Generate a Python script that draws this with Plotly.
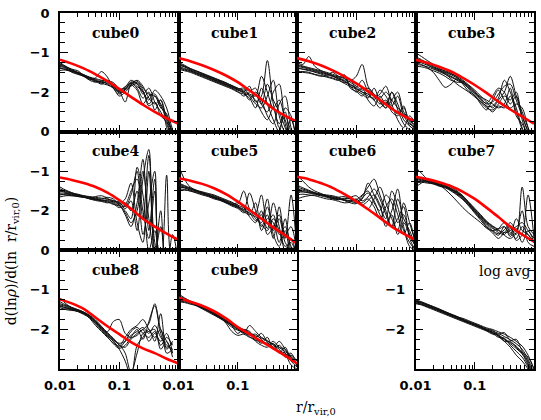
import plotly.graph_objects as go

# radii (r / r_vir,0) at which profiles are sampled
R = [0.01, 0.0126, 0.0158, 0.02, 0.0251, 0.0316, 0.0398, 0.0501, 0.0631, 0.0794,
     0.1, 0.126, 0.158, 0.2, 0.251, 0.316, 0.398, 0.501, 0.631, 0.794, 1.0]
R_RED = [0.01, 0.0158, 0.0251, 0.0398, 0.0631, 0.1, 0.158, 0.251, 0.398, 0.631, 1.0]

X_TICKS = [0.01, 0.1, 1.0]
X_TICKTEXT = ["0.01", "0.1", ""]
X_MINOR = [0.02, 0.03, 0.04, 0.05, 0.06, 0.07, 0.08, 0.09, 0.2, 0.3, 0.4, 0.5, 0.6, 0.7, 0.8, 0.9]
Y_TICKS = [0, -1, -2, -3]
Y_MINOR = [-0.25, -0.5, -0.75, -1.25, -1.5, -1.75, -2.25, -2.5, -2.75]

cube0 = [
    [-1.30,-1.38,-1.44,-1.50,-1.56,-1.62,-1.66,-1.70,-1.74,-1.86,-2.00,-1.92,-1.76,-1.72,-1.90,-2.05,-2.10,-2.30,-2.60,-3.00,-3.30],
    [-1.40,-1.42,-1.48,-1.54,-1.60,-1.66,-1.74,-1.72,-1.70,-1.82,-1.98,-1.88,-1.70,-1.80,-2.00,-2.20,-1.95,-2.10,-2.40,-2.95,-3.30],
    [-1.25,-1.35,-1.42,-1.46,-1.58,-1.68,-1.64,-1.48,-1.62,-1.90,-2.05,-1.95,-1.82,-1.70,-1.85,-2.15,-2.30,-2.20,-2.70,-3.20,-3.30],
    [-1.45,-1.44,-1.46,-1.52,-1.58,-1.64,-1.70,-1.78,-1.82,-1.90,-2.10,-2.00,-1.85,-1.78,-2.05,-1.90,-2.25,-2.50,-2.80,-3.20,-3.30],
    [-1.35,-1.40,-1.50,-1.55,-1.60,-1.66,-1.72,-1.80,-1.72,-1.76,-1.95,-2.25,-1.80,-1.76,-1.96,-2.30,-2.10,-2.40,-2.55,-3.10,-3.30],
    [-1.32,-1.38,-1.46,-1.52,-1.60,-1.70,-1.75,-1.72,-1.80,-1.88,-1.96,-1.86,-1.78,-1.90,-2.15,-2.00,-2.45,-2.20,-2.90,-3.30,-3.30],
    [-1.38,-1.44,-1.48,-1.50,-1.56,-1.64,-1.68,-1.74,-1.78,-1.84,-2.02,-1.94,-1.74,-1.86,-1.98,-2.35,-2.25,-2.60,-2.75,-3.00,-3.30],
    [-1.28,-1.36,-1.43,-1.51,-1.57,-1.63,-1.71,-1.76,-1.74,-1.80,-1.92,-1.90,-1.82,-1.95,-2.30,-2.10,-2.05,-2.35,-2.65,-3.05,-3.30],
]
cube0_red = [-1.18,-1.28,-1.40,-1.55,-1.72,-1.92,-2.12,-2.32,-2.50,-2.66,-2.80]

cube1 = [
    [-1.30,-1.36,-1.42,-1.48,-1.54,-1.60,-1.66,-1.72,-1.78,-1.84,-1.90,-1.98,-2.05,-2.10,-1.60,-2.00,-2.40,-2.20,-2.70,-3.10,-3.30],
    [-1.40,-1.42,-1.46,-1.52,-1.58,-1.64,-1.70,-1.76,-1.82,-1.88,-1.95,-2.00,-1.85,-2.25,-2.10,-1.20,-2.30,-2.80,-2.50,-3.20,-3.30],
    [-1.25,-1.32,-1.40,-1.46,-1.52,-1.58,-1.64,-1.70,-1.76,-1.84,-1.92,-1.90,-2.10,-2.30,-2.40,-2.10,-1.70,-2.60,-3.00,-2.70,-3.30],
    [-1.38,-1.44,-1.48,-1.54,-1.60,-1.66,-1.72,-1.78,-1.84,-1.90,-1.98,-2.10,-2.00,-1.90,-2.30,-2.50,-2.00,-1.80,-2.80,-3.20,-3.30],
    [-1.32,-1.36,-1.44,-1.50,-1.56,-1.62,-1.68,-1.74,-1.80,-1.86,-1.94,-2.00,-2.20,-2.00,-2.20,-2.60,-2.80,-2.30,-2.10,-2.90,-3.30],
    [-1.42,-1.46,-1.50,-1.56,-1.62,-1.68,-1.74,-1.80,-1.86,-1.92,-2.00,-2.05,-2.15,-2.40,-1.90,-2.30,-2.70,-3.00,-2.40,-2.60,-3.30],
    [-1.28,-1.34,-1.41,-1.47,-1.53,-1.59,-1.65,-1.71,-1.77,-1.83,-1.90,-1.95,-1.95,-2.05,-2.30,-1.80,-2.20,-2.50,-2.90,-3.30,-3.30],
    [-1.35,-1.40,-1.46,-1.52,-1.57,-1.63,-1.69,-1.75,-1.81,-1.87,-1.93,-2.02,-2.08,-2.20,-2.50,-2.70,-2.40,-2.90,-2.60,-3.00,-3.30],
]
cube1_red = [-1.14,-1.22,-1.32,-1.44,-1.58,-1.75,-1.96,-2.18,-2.42,-2.60,-2.74]

cube2 = [
    [-1.30,-1.34,-1.38,-1.42,-1.46,-1.50,-1.55,-1.60,-1.66,-1.75,-1.85,-1.95,-1.90,-2.05,-2.15,-2.00,-2.20,-2.40,-2.55,-2.70,-2.85],
    [-1.40,-1.42,-1.46,-1.48,-1.52,-1.56,-1.60,-1.66,-1.72,-1.80,-1.88,-1.70,-2.00,-2.20,-1.95,-2.10,-2.35,-2.10,-2.60,-2.80,-2.90],
    [-1.25,-1.30,-1.10,-1.35,-1.45,-1.52,-1.58,-1.62,-1.70,-1.68,-1.95,-2.05,-2.15,-1.90,-2.25,-2.40,-2.00,-2.30,-2.70,-2.85,-3.00],
    [-1.50,-1.48,-1.50,-1.55,-1.58,-1.62,-1.66,-1.70,-1.56,-1.90,-1.98,-2.10,-1.95,-2.10,-2.30,-2.20,-2.50,-2.60,-2.40,-2.75,-2.95],
    [-1.35,-1.38,-1.42,-1.46,-1.50,-1.54,-1.60,-1.64,-1.74,-1.82,-1.90,-2.00,-2.10,-2.15,-2.05,-1.85,-2.30,-2.70,-2.90,-2.60,-2.80],
    [-1.45,-1.50,-1.52,-1.56,-1.60,-1.58,-1.50,-1.60,-1.64,-1.85,-2.00,-1.90,-2.20,-2.35,-2.10,-2.30,-2.00,-2.45,-2.80,-2.95,-3.00],
    [-1.32,-1.36,-1.40,-1.44,-1.48,-1.54,-1.58,-1.68,-1.76,-1.72,-1.60,-1.30,-1.85,-2.05,-2.20,-2.40,-2.20,-2.00,-2.50,-2.70,-2.90],
    [-1.38,-1.42,-1.44,-1.50,-1.54,-1.60,-1.64,-1.70,-1.78,-1.86,-1.92,-2.00,-2.05,-2.20,-2.40,-2.25,-2.40,-2.55,-2.35,-2.85,-2.95],
]
cube2_red = [-1.14,-1.22,-1.32,-1.45,-1.60,-1.78,-1.98,-2.20,-2.42,-2.60,-2.74]

cube3 = [
    [-1.20,-1.26,-1.32,-1.38,-1.44,-1.50,-1.56,-1.64,-1.72,-1.86,-2.00,-2.15,-2.30,-2.25,-2.05,-1.85,-1.80,-2.20,-2.60,-3.00,-3.30],
    [-1.30,-1.32,-1.36,-1.42,-1.48,-1.55,-1.62,-1.70,-1.78,-1.90,-2.05,-2.20,-2.35,-2.35,-2.15,-1.70,-2.00,-2.40,-2.90,-3.20,-3.30],
    [-1.00,-1.10,-1.20,-1.30,-1.40,-1.48,-1.54,-1.60,-1.70,-1.82,-1.95,-2.10,-2.25,-2.40,-2.20,-2.00,-1.60,-2.10,-2.50,-2.90,-3.30],
    [-1.25,-1.30,-1.38,-1.50,-1.70,-1.88,-1.80,-1.66,-1.76,-1.92,-2.10,-2.25,-2.40,-2.45,-2.30,-2.10,-2.20,-2.00,-2.70,-3.10,-3.30],
    [-1.15,-1.20,-1.28,-1.36,-1.42,-1.46,-1.52,-1.62,-1.80,-1.98,-2.08,-2.30,-2.45,-2.20,-1.95,-2.20,-2.40,-2.30,-2.40,-2.90,-3.30],
    [-1.35,-1.36,-1.40,-1.46,-1.52,-1.60,-1.70,-1.75,-1.76,-1.88,-2.02,-2.12,-2.20,-2.30,-2.40,-2.30,-1.90,-2.60,-2.80,-3.10,-3.30],
    [-1.28,-1.22,-1.30,-1.40,-1.46,-1.52,-1.60,-1.68,-1.74,-1.84,-1.98,-2.18,-2.28,-2.10,-1.90,-2.00,-2.30,-2.10,-2.60,-3.00,-3.30],
    [-1.10,-1.18,-1.26,-1.34,-1.44,-1.54,-1.66,-1.80,-1.90,-2.00,-2.12,-2.24,-2.36,-2.50,-2.35,-2.40,-2.10,-2.50,-2.95,-3.30,-3.30],
]
cube3_red = [-1.18,-1.26,-1.36,-1.48,-1.64,-1.82,-2.02,-2.24,-2.44,-2.62,-2.80]

cube4 = [
    [-1.50,-1.52,-1.56,-1.60,-1.62,-1.64,-1.66,-1.68,-1.70,-1.75,-1.80,-1.90,-1.60,-1.00,-2.20,-0.60,-2.80,-3.30,-3.30,-3.30,-3.30],
    [-1.60,-1.58,-1.60,-1.64,-1.66,-1.70,-1.72,-1.72,-1.74,-1.78,-1.85,-2.10,-2.40,-1.80,-0.70,-2.50,-1.20,-3.30,-3.30,-3.30,-3.30],
    [-1.45,-1.50,-1.55,-1.58,-1.62,-1.66,-1.68,-1.70,-1.66,-1.70,-1.82,-1.70,-1.30,-2.30,-2.80,-1.00,-3.20,-2.00,-3.30,-3.30,-3.30],
    [-1.65,-1.62,-1.62,-1.64,-1.66,-1.68,-1.70,-1.74,-1.78,-1.84,-1.88,-2.00,-2.20,-0.90,-1.60,-3.00,-2.50,-3.30,-3.30,-3.30,-3.30],
    [-1.55,-1.56,-1.58,-1.60,-1.64,-1.66,-1.70,-1.76,-1.80,-1.76,-1.78,-1.95,-1.75,-2.50,-1.20,-0.45,-3.00,-3.30,-1.10,-3.30,-3.30],
    [-1.40,-1.48,-1.54,-1.60,-1.64,-1.68,-1.64,-1.62,-1.68,-1.80,-1.86,-1.80,-2.00,-1.50,-2.60,-1.80,-1.00,-3.30,-3.30,-3.30,-3.30],
    [-1.58,-1.60,-1.62,-1.62,-1.64,-1.70,-1.74,-1.76,-1.72,-1.74,-1.84,-2.05,-2.30,-2.00,-1.00,-2.20,-3.10,-2.40,-3.30,-3.30,-3.30],
    [-1.50,-1.54,-1.58,-1.62,-1.66,-1.68,-1.72,-1.74,-1.76,-1.82,-1.92,-1.85,-1.50,-1.20,-2.00,-2.70,-1.50,-3.30,-3.30,-2.60,-3.30],
]
cube4_red = [-1.16,-1.22,-1.30,-1.40,-1.54,-1.73,-1.95,-2.20,-2.40,-2.58,-2.74]

cube5 = [
    [-1.40,-1.42,-1.46,-1.50,-1.54,-1.58,-1.62,-1.68,-1.74,-1.80,-1.86,-1.92,-2.00,-2.05,-1.60,-2.30,-2.10,-2.60,-2.40,-2.90,-3.10],
    [-0.85,-1.20,-1.40,-1.48,-1.52,-1.56,-1.60,-1.66,-1.72,-1.78,-1.84,-1.50,-1.95,-2.10,-2.20,-1.70,-2.50,-2.20,-2.80,-3.00,-3.20],
    [-1.30,-1.36,-1.42,-1.48,-1.54,-1.60,-1.66,-1.70,-1.76,-1.82,-1.90,-1.98,-1.55,-2.00,-2.40,-2.10,-2.70,-1.90,-2.60,-2.40,-3.10],
    [-1.45,-1.46,-1.50,-1.54,-1.58,-1.62,-1.66,-1.72,-1.78,-1.84,-1.88,-2.00,-2.05,-2.25,-2.10,-2.45,-1.80,-2.40,-3.00,-2.70,-3.20],
    [-1.35,-1.40,-1.44,-1.50,-1.56,-1.60,-1.64,-1.70,-1.76,-1.86,-1.92,-2.02,-2.10,-1.80,-2.50,-2.20,-2.30,-2.80,-2.20,-3.00,-3.20],
    [-1.50,-1.48,-1.50,-1.55,-1.60,-1.64,-1.70,-1.74,-1.80,-1.84,-1.80,-1.90,-2.15,-2.30,-2.00,-2.60,-2.40,-2.10,-2.70,-1.60,-3.10],
    [-1.38,-1.42,-1.48,-1.52,-1.56,-1.62,-1.68,-1.72,-1.78,-1.84,-1.90,-1.96,-2.08,-2.15,-2.30,-1.90,-2.60,-2.90,-2.50,-3.10,-3.20],
    [-1.32,-1.38,-1.44,-1.50,-1.55,-1.60,-1.66,-1.72,-1.80,-1.88,-1.94,-2.05,-2.00,-2.20,-2.35,-2.50,-2.20,-2.50,-2.90,-2.80,-3.20],
]
cube5_red = [-1.18,-1.24,-1.32,-1.43,-1.58,-1.77,-1.98,-2.20,-2.42,-2.62,-2.83]

cube6 = [
    [-1.40,-1.45,-1.50,-1.55,-1.58,-1.62,-1.66,-1.70,-1.72,-1.74,-1.72,-1.60,-1.50,-1.80,-2.00,-1.60,-1.80,-2.30,-2.10,-2.60,-2.90],
    [-1.55,-1.52,-1.54,-1.56,-1.60,-1.64,-1.68,-1.70,-1.74,-1.76,-1.80,-1.70,-1.30,-1.60,-1.90,-2.20,-1.50,-1.90,-2.50,-2.80,-3.00],
    [-1.10,-1.25,-1.40,-1.50,-1.56,-1.62,-1.68,-1.72,-1.70,-1.66,-1.62,-1.75,-1.65,-1.45,-1.70,-2.10,-2.40,-1.70,-2.20,-2.50,-2.90],
    [-1.60,-1.58,-1.60,-1.62,-1.66,-1.70,-1.72,-1.76,-1.80,-1.78,-1.70,-1.85,-1.95,-1.70,-1.40,-1.80,-2.20,-2.50,-1.80,-2.30,-2.80],
    [-1.50,-1.52,-1.55,-1.58,-1.60,-1.62,-1.64,-1.68,-1.74,-1.80,-1.82,-1.68,-1.55,-1.75,-2.10,-2.30,-2.00,-1.45,-2.40,-2.90,-3.00],
    [-1.70,-1.65,-1.62,-1.60,-1.62,-1.66,-1.70,-1.72,-1.68,-1.70,-1.76,-1.80,-1.70,-1.90,-2.20,-1.90,-1.70,-2.10,-2.60,-2.30,-2.90],
    [-1.45,-1.48,-1.52,-1.56,-1.60,-1.64,-1.68,-1.66,-1.64,-1.70,-1.78,-1.62,-1.40,-1.20,-1.60,-2.00,-2.40,-2.20,-1.90,-2.70,-3.00],
    [-1.35,-1.42,-1.48,-1.54,-1.58,-1.60,-1.62,-1.66,-1.72,-1.76,-1.74,-1.85,-1.75,-1.60,-1.85,-2.40,-2.10,-2.60,-2.30,-2.60,-2.90],
]
cube6_red = [-1.14,-1.20,-1.30,-1.42,-1.58,-1.76,-1.96,-2.18,-2.40,-2.58,-2.74]

cube7 = [
    [-1.15,-1.20,-1.25,-1.28,-1.32,-1.36,-1.44,-1.54,-1.66,-1.82,-2.00,-2.16,-2.32,-2.45,-2.50,-2.55,-2.50,-2.40,-2.30,-2.50,-2.70],
    [-0.90,-1.05,-1.20,-1.28,-1.30,-1.34,-1.40,-1.50,-1.62,-1.80,-1.98,-2.14,-2.30,-2.42,-2.55,-2.60,-2.45,-2.60,-1.40,-2.40,-2.60],
    [-1.30,-1.28,-1.30,-1.32,-1.36,-1.40,-1.48,-1.58,-1.70,-1.86,-2.04,-2.20,-2.36,-2.50,-2.58,-2.48,-2.30,-2.50,-2.60,-2.70,-2.80],
    [-1.20,-1.24,-1.26,-1.30,-1.34,-1.38,-1.46,-1.56,-1.68,-1.84,-2.02,-2.18,-2.40,-2.52,-2.62,-2.40,-2.60,-2.20,-2.50,-2.60,-2.80],
    [-1.40,-1.30,-1.22,-1.26,-1.34,-1.46,-1.60,-1.76,-1.92,-2.06,-2.18,-2.30,-2.44,-2.50,-2.45,-2.30,-2.55,-2.70,-2.40,-2.60,-2.80],
    [-1.10,-1.18,-1.24,-1.30,-1.36,-1.40,-1.46,-1.54,-1.64,-1.80,-1.96,-2.12,-2.28,-2.40,-2.48,-2.62,-2.70,-2.55,-2.00,-2.80,-2.90],
    [-1.25,-1.26,-1.28,-1.32,-1.38,-1.42,-1.50,-1.60,-1.72,-1.88,-2.06,-2.24,-2.42,-2.56,-2.70,-2.55,-2.40,-2.75,-2.60,-1.60,-2.70],
    [-1.18,-1.22,-1.26,-1.30,-1.34,-1.38,-1.44,-1.52,-1.64,-1.78,-1.94,-2.10,-2.26,-2.38,-2.46,-2.40,-2.65,-2.45,-2.80,-2.50,-2.80],
]
cube7_red = [-1.14,-1.20,-1.28,-1.38,-1.52,-1.70,-1.92,-2.16,-2.40,-2.60,-2.78]

cube8 = [
    [-1.40,-1.45,-1.48,-1.52,-1.58,-1.66,-1.80,-1.96,-2.12,-2.25,-2.35,-2.30,-2.15,-2.05,-1.95,-2.10,-1.90,-2.20,-2.40,-2.50,None],
    [-1.20,-1.35,-1.45,-1.50,-1.56,-1.64,-1.76,-1.92,-2.08,-2.22,-2.40,-2.45,-2.25,-2.10,-2.00,-1.85,-1.35,-2.00,-2.30,-2.60,None],
    [-1.50,-1.48,-1.50,-1.54,-1.60,-1.70,-1.86,-2.02,-2.16,-2.28,-2.45,-2.30,-2.05,-1.95,-2.10,-2.20,-2.05,-2.40,-2.20,-2.40,None],
    [-1.35,-1.40,-1.46,-1.52,-1.58,-1.68,-1.82,-1.98,-2.14,-2.30,-2.50,-2.80,-3.20,-2.40,-2.20,-2.00,-2.30,-1.60,-2.50,-2.30,None],
    [-1.45,-1.50,-1.52,-1.54,-1.60,-1.72,-1.90,-2.05,-2.20,-2.34,-2.42,-2.20,-2.00,-1.90,-1.75,-2.00,-2.20,-2.00,-2.60,-2.50,None],
    [-1.30,-1.38,-1.44,-1.50,-1.56,-1.66,-1.78,-1.94,-2.06,-1.80,-1.75,-2.10,-2.20,-2.15,-2.00,-2.30,-2.10,-2.30,-2.10,-2.60,None],
    [-1.42,-1.46,-1.50,-1.55,-1.62,-1.70,-1.84,-2.00,-2.18,-2.36,-2.48,-2.40,-2.20,-2.00,-2.25,-1.80,-1.40,-2.10,-2.45,-2.35,None],
    [-1.38,-1.42,-1.48,-1.53,-1.58,-1.66,-1.80,-1.96,-2.10,-2.26,-2.38,-2.60,-3.10,-2.60,-2.10,-2.05,-2.00,-2.50,-2.30,-2.70,None],
]
cube8_red = [-1.24,-1.34,-1.48,-1.70,-1.92,-2.12,-2.32,-2.48,-2.60,-2.74,-2.86]

cube9 = [
    [-1.20,-1.25,-1.30,-1.36,-1.42,-1.50,-1.58,-1.66,-1.76,-1.86,-1.96,-2.04,-2.10,-2.16,-2.22,-2.30,-2.38,-2.46,-2.56,-2.68,-2.85],
    [-1.10,-1.20,-1.28,-1.34,-1.40,-1.48,-1.56,-1.64,-1.72,-1.90,-2.10,-2.00,-2.05,-2.20,-2.30,-2.35,-2.45,-2.55,-2.60,-2.75,-2.90],
    [-1.30,-1.32,-1.36,-1.40,-1.46,-1.52,-1.60,-1.70,-1.82,-1.94,-2.02,-2.08,-2.14,-2.12,-2.25,-2.40,-2.30,-2.45,-2.50,-2.80,-2.95],
    [-1.25,-1.28,-1.32,-1.38,-1.44,-1.50,-1.58,-1.68,-1.78,-1.88,-1.98,-2.10,-1.90,-2.05,-2.20,-2.28,-2.40,-2.50,-2.70,-2.65,-2.80],
    [-1.15,-1.22,-1.30,-1.38,-1.46,-1.54,-1.62,-1.70,-1.84,-2.05,-2.15,-2.12,-2.20,-2.25,-2.35,-2.20,-2.50,-2.40,-2.60,-2.90,-3.00],
    [-1.28,-1.30,-1.34,-1.38,-1.44,-1.52,-1.62,-1.72,-1.80,-1.90,-2.00,-2.06,-2.12,-2.20,-2.10,-2.32,-2.45,-2.30,-2.50,-2.70,-2.90],
    [-1.22,-1.26,-1.30,-1.36,-1.44,-1.52,-1.60,-1.68,-1.78,-1.86,-1.94,-2.00,-2.08,-2.30,-2.40,-2.45,-2.35,-2.60,-2.45,-2.75,-2.85],
    [-1.18,-1.24,-1.32,-1.40,-1.48,-1.56,-1.64,-1.72,-1.80,-1.88,-1.98,-2.08,-2.18,-2.28,-2.30,-2.38,-2.50,-2.55,-2.65,-2.60,-2.95],
]
cube9_red = [-1.20,-1.30,-1.40,-1.54,-1.72,-1.94,-2.12,-2.30,-2.48,-2.66,-2.86]

log_avg = [
    [-1.28,-1.32,-1.38,-1.44,-1.50,-1.56,-1.62,-1.68,-1.74,-1.80,-1.86,-1.92,-1.98,-2.04,-2.10,-2.18,-2.26,-2.36,-2.50,-2.75,-3.10],
    [-1.32,-1.36,-1.42,-1.48,-1.54,-1.60,-1.66,-1.72,-1.78,-1.84,-1.88,-1.94,-2.00,-2.08,-2.16,-2.26,-2.36,-2.48,-2.62,-2.90,-3.20],
    [-1.25,-1.30,-1.36,-1.42,-1.48,-1.55,-1.62,-1.68,-1.72,-1.78,-1.84,-1.90,-1.96,-2.00,-2.06,-2.12,-2.20,-2.30,-2.42,-2.65,-3.00],
    [-1.30,-1.34,-1.40,-1.46,-1.52,-1.58,-1.64,-1.70,-1.76,-1.82,-1.90,-1.96,-2.02,-2.10,-2.20,-2.22,-2.40,-2.55,-2.70,-2.95,-3.30],
    [-1.35,-1.38,-1.44,-1.50,-1.56,-1.62,-1.68,-1.74,-1.80,-1.86,-1.92,-1.98,-2.04,-2.12,-2.15,-2.30,-2.30,-2.45,-2.60,-2.85,-3.30],
    [-1.27,-1.31,-1.37,-1.43,-1.49,-1.55,-1.61,-1.67,-1.75,-1.83,-1.89,-1.95,-2.01,-2.06,-2.12,-2.08,-2.28,-2.25,-2.55,-2.80,-3.20],
    [-1.33,-1.37,-1.42,-1.47,-1.53,-1.59,-1.65,-1.71,-1.77,-1.83,-1.87,-1.93,-2.00,-2.02,-2.18,-2.30,-2.45,-2.65,-2.80,-3.00,-3.30],
    [-1.29,-1.33,-1.39,-1.45,-1.51,-1.57,-1.63,-1.69,-1.76,-1.81,-1.88,-1.95,-2.03,-2.09,-2.14,-2.24,-2.33,-2.42,-2.58,-2.70,-3.00],
]

# (label, row, col, black profiles, red model)
PANELS = [
    ("cube0", 0, 0, cube0, cube0_red), ("cube1", 0, 1, cube1, cube1_red),
    ("cube2", 0, 2, cube2, cube2_red), ("cube3", 0, 3, cube3, cube3_red),
    ("cube4", 1, 0, cube4, cube4_red), ("cube5", 1, 1, cube5, cube5_red),
    ("cube6", 1, 2, cube6, cube6_red), ("cube7", 1, 3, cube7, cube7_red),
    ("cube8", 2, 0, cube8, cube8_red), ("cube9", 2, 1, cube9, cube9_red),
    ("log avg", 2, 3, log_avg, None),
]

W, H = 541, 420
ML, MR, MT, MB = 60, 5, 13, 51
NCOL, NROW = 4, 3
TICKFONT = dict(family="DejaVu Sans", size=13, color="black", weight="bold")

fig = go.Figure()
layout = {}
annotations = []

for i, (name, r, c, profs, red) in enumerate(PANELS):
    k = i + 1
    xs = "x" if k == 1 else f"x{k}"
    ys = "y" if k == 1 else f"y{k}"
    for p in profs:
        fig.add_trace(go.Scatter(x=R, y=p, mode="lines", xaxis=xs, yaxis=ys,
                                 line=dict(color="#111111", width=1.0, shape="spline", smoothing=0.9),
                                 showlegend=False, hoverinfo="skip", connectgaps=False))
    if red is not None:
        fig.add_trace(go.Scatter(x=R_RED, y=red, mode="lines", xaxis=xs, yaxis=ys,
                                 line=dict(color="#ff0000", width=2.6, shape="spline", smoothing=1.0),
                                 showlegend=False, hoverinfo="skip"))

    show_xlab = r == 2
    left = (c == 0) or (name == "log avg")
    if name == "log avg":
        ytext = ["", "\u22121", "\u22122", ""]
    else:
        ytext = ["0", "\u22121", "\u22122", ""]

    xd = [c / NCOL, (c + 1) / NCOL]
    yd = [1 - (r + 1) / NROW, 1 - r / NROW]
    layout["xaxis" if k == 1 else f"xaxis{k}"] = dict(
        domain=xd, anchor=ys, type="log", range=[-2, 0],
        showline=True, linecolor="black", linewidth=1.5, mirror="allticks",
        ticks="inside", ticklen=7, tickwidth=1.2, tickcolor="black",
        tickvals=X_TICKS, ticktext=X_TICKTEXT, showticklabels=show_xlab,
        tickfont=TICKFONT, ticklabelstandoff=4,
        minor=dict(ticks="inside", ticklen=4, tickwidth=1.0, tickcolor="black",
                   tickvals=X_MINOR, showgrid=False),
        showgrid=False, zeroline=False, fixedrange=True,
    )
    layout["yaxis" if k == 1 else f"yaxis{k}"] = dict(
        domain=yd, anchor=xs, range=[-3, 0],
        showline=True, linecolor="black", linewidth=1.5, mirror="allticks",
        ticks="inside", ticklen=8, tickwidth=1.2, tickcolor="black",
        tickvals=Y_TICKS, ticktext=ytext, showticklabels=left,
        tickfont=TICKFONT, ticklabelstandoff=6,
        minor=dict(ticks="inside", ticklen=5, tickwidth=1.0, tickcolor="black",
                   tickvals=Y_MINOR, showgrid=False),
        showgrid=False, zeroline=False, fixedrange=True,
    )

    if name == "log avg":
        annotations.append(dict(text=name, xref=xs, yref=ys, x=-0.02, y=-0.53,
                                xanchor="right", yanchor="middle", showarrow=False,
                                font=dict(family="DejaVu Serif", size=14, color="black")))
    else:
        annotations.append(dict(text=name, xref=xs, yref=ys, x=-1.06, y=-0.5,
                                xanchor="center", yanchor="middle", showarrow=False,
                                font=dict(family="DejaVu Serif", size=14, color="black", weight="bold")))

PW = W - ML - MR
PH = H - MT - MB
annotations.append(dict(text="d(ln<i>\u03c1</i>)/d(ln  r/r<sub>vir,0</sub>)", xref="paper", yref="paper",
                        x=(12 - ML) / PW, y=(H - MB - 261) / PH, xanchor="center", yanchor="middle",
                        textangle=-90, showarrow=False,
                        font=dict(family="DejaVu Serif", size=14, color="black")))
annotations.append(dict(text="r/r<sub>vir,0</sub>", xref="paper", yref="paper",
                        x=(295 - ML) / PW, y=(H - MB - 408) / PH, xanchor="left", yanchor="middle",
                        showarrow=False, font=dict(family="DejaVu Serif", size=14, color="black")))

fig.update_layout(
    width=W, height=H, margin=dict(l=ML, r=MR, t=MT, b=MB),
    paper_bgcolor="white", plot_bgcolor="white",
    annotations=annotations, showlegend=False, **layout,
)

fig.write_html("out.html", config=dict(displayModeBar=False))
